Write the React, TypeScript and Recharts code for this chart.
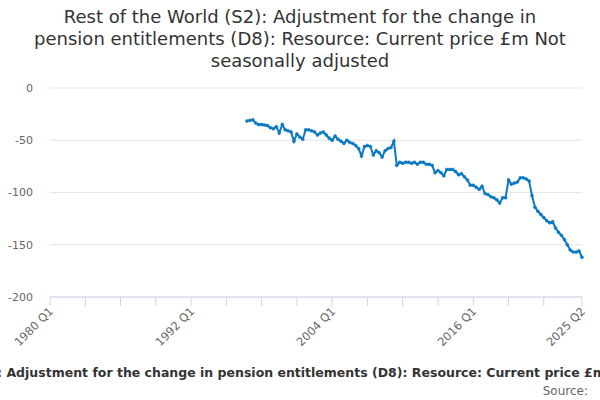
import { LineChart, Line, XAxis, YAxis, CartesianGrid } from 'recharts'

const TITLE = [
    'Rest of the World (S2): Adjustment for the change in',
    'pension entitlements (D8): Resource: Current price £m Not',
    'seasonally adjusted',
]
const AXIS_TITLE = 'Rest of the World (S2): Adjustment for the change in pension entitlements (D8): Resource: Current price £m Not seasonally adjusted'

// quarters from 1980 Q1 to 2025 Q2
const quarters: string[] = []
for (let y = 1980; y <= 2025; y++) {
    for (let q = 1; q <= 4; q++) {
        if (y === 2025 && q > 2) break
        quarters.push(`${y} Q${q}`)
    }
}

// the series begins at 1996 Q4
const firstIndex = 67
const values = [
    -31.6, -31, -30.5, -33.5, -35, -35, -35.5, -36, -38, -39,
    -37, -43, -35, -40, -41, -42, -51, -44, -47, -49,
    -40, -40, -41, -42, -45, -43, -42, -45, -48, -50,
    -46, -49, -51, -53, -50, -52, -53, -55, -58, -65,
    -56, -55, -56, -64, -60, -62, -66, -60, -58, -57, -51,
    -74, -71, -72, -71, -71, -72, -71, -73, -71, -71,
    -73, -73, -74, -81, -79, -81, -84, -78, -78, -78,
    -80, -83, -82, -85, -88, -93, -93, -95, -97, -94,
    -101, -102, -104, -105, -107, -110, -105, -105, -88, -92,
    -91, -90, -86, -86, -87, -89, -103, -114, -118, -121,
    -124, -127, -129, -128, -134, -138, -141, -145, -150, -155,
    -157, -157, -156, -162,
]

const xTicks = [0, 12, 24, 36, 48, 60, 72, 84, 96, 108, 120, 132, 144, 156, 168, 181]
const labelTicks = [0, 48, 96, 144, 181]
const yTicks = [0, -50, -100, -150, -200]

const data = quarters.map((label, i) => ({
    i,
    label,
    value: i >= firstIndex ? values[i - firstIndex] ?? null : null,
}))

const FONT = '"DejaVu Sans", sans-serif'
const BLUE = '#0a78c2'

function QuarterTick({ x, y, payload }: any) {
    if (!labelTicks.includes(payload.value)) return null
    const ax = x + 4
    const ay = y + 4
    return (
        <text
            x={ax}
            y={ay}
            transform={`rotate(-45, ${ax}, ${ay})`}
            textAnchor="end"
            fontSize={11.5}
            fontFamily={FONT}
            fill="#666"
        >
            {quarters[payload.value]}
        </text>
    )
}

export default function App() {
    return (
        <div style={{ position: 'absolute', left: 0, top: 0, width: 600, height: 400, overflow: 'hidden', background: '#fff', fontFamily: FONT }}>
            <div style={{ position: 'absolute', left: 0, top: 6, width: 600, textAlign: 'center', fontSize: 18, lineHeight: '22px', color: '#333' }}>
                {TITLE.map((t, idx) => <div key={idx}>{t}</div>)}
            </div>
            <LineChart width={600} height={400} data={data} margin={{ top: 88, right: 18, bottom: 33, left: 0 }}>
                <CartesianGrid vertical={false} stroke="#e6e6e6" />
                <XAxis
                    dataKey="i"
                    type="number"
                    domain={[0, 181]}
                    ticks={xTicks}
                    interval={0}
                    height={70}
                    tick={<QuarterTick />}
                    tickSize={9}
                    axisLine={{ stroke: '#ccd6eb' }}
                    tickLine={{ stroke: '#ccd6eb' }}
                />
                <YAxis
                    width={50}
                    domain={[-200, 0]}
                    ticks={yTicks}
                    axisLine={false}
                    tickLine={false}
                    tickMargin={11}
                    tick={{ fontSize: 11, fill: '#666', fontFamily: FONT }}
                />
                <Line
                    type="linear"
                    dataKey="value"
                    stroke={BLUE}
                    strokeWidth={2}
                    dot={{ r: 1.5, fill: BLUE, stroke: BLUE, strokeWidth: 0.5 }}
                    connectNulls={false}
                    isAnimationActive={false}
                />
            </LineChart>
            <div style={{ position: 'absolute', left: 310, top: 365, transform: 'translateX(-50%)', whiteSpace: 'nowrap', fontSize: 12.5, fontWeight: 'bold', color: '#333' }}>
                {AXIS_TITLE}
            </div>
            <div style={{ position: 'absolute', right: 12, top: 384, fontSize: 12, color: '#666' }}>
                Source:
            </div>
        </div>
    )
}
